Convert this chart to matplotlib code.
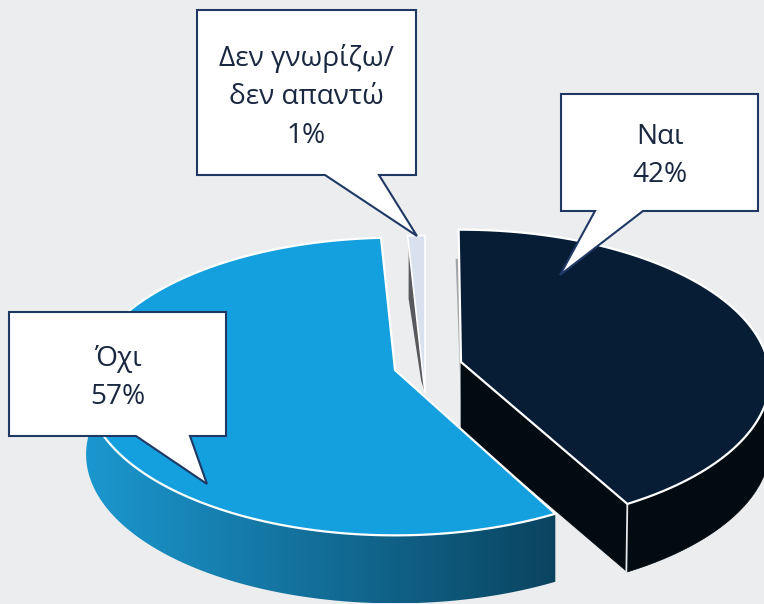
import numpy as np
import matplotlib
matplotlib.use("Agg")
import matplotlib.pyplot as plt
from matplotlib.colors import LinearSegmentedColormap
from matplotlib.patches import Polygon

categories = ["Ναι", "Όχι", "Δεν γνωρίζω/\nδεν απαντώ"]
values = [42, 57, 1]

BG = "#ECEDEF"
TOP_COLORS = ["#071D36", "#14A0DE", "#D9E0EE"]
WALL_DARK = "#020A12"
EDGE = "#1F3864"
TEXT = "#1A2740"

# pie geometry in pixels, one centre per exploded slice
CENTERS = [(461, 362), (395, 370), (425, 393)]
RADII = [(307, 147), (307, 147), (307, 175)]
SKEW = np.radians([-0.5, 0.7, 0.0])  # the 3d view leans each slice a little
PERSP = 0.111
DEPTH = 68

# callout box (left, top, right, bottom), tail base x0, x1, tip, text centre
CALLOUTS = [
    ((561, 94, 758, 211), 595, 643, (560, 275), (660, 156)),
    ((9, 312, 226, 436), 136, 190, (207, 484), (118, 378)),
    ((197, 10, 416, 175), 325, 379, (417, 236), (306, 97)),
]


def project(theta, center, radii):
    """Clockwise angle from 12 o'clock to pixels, with a little perspective."""
    u = np.sin(theta)
    v = np.cos(theta)
    d = 1 + PERSP * v
    return center[0] + radii[0] * u / d, center[1] - radii[1] * v / d


def arc(a0, a1, center, radii, n=160):
    x, y = project(np.linspace(a0, a1, n), center, radii)
    return np.column_stack([x, y])


def wall(a0, a1, center, radii):
    """Outline of the outer wall of a slice between two angles."""
    pts = arc(a0, a1, center, radii)
    return np.vstack([pts, pts[::-1] + [0, DEPTH]])


fig = plt.figure(figsize=(7.64, 6.04), dpi=100, facecolor=BG)
ax = fig.add_axes([0, 0, 1, 1])
ax.set_xlim(0, 764)
ax.set_ylim(604, 0)
ax.axis("off")

edges = np.cumsum([0] + values) / sum(values) * 2 * np.pi
a_yes = (edges[0] + SKEW[0], edges[1] + SKEW[0])
a_no = (edges[1] + SKEW[1], edges[2] + SKEW[1])
a_dk = (edges[2] + SKEW[2], edges[3] + SKEW[2])

# Nai: walls first, then the top face
c = np.array(CENTERS[0], float)
corner = np.array(project(a_yes[1], c, RADII[0]))
ax.add_patch(Polygon([c, corner, corner + [0, DEPTH], c + [0, DEPTH]], closed=True,
                     fc=WALL_DARK, ec=WALL_DARK, lw=0.5, zorder=2))
ax.add_patch(Polygon(wall(np.pi / 2, a_yes[1], c, RADII[0]), closed=True,
                     fc=WALL_DARK, ec=WALL_DARK, lw=0.5, zorder=2))
ax.plot([corner[0], corner[0] - 1], [corner[1], corner[1] + DEPTH], color="#E4E6E8", lw=1.3, zorder=3)
rim = np.array(project(a_yes[0], c, RADII[0]))
ax.add_patch(Polygon([c + [0, 40], c + (rim - c) * 0.78, c + (rim - c) * 0.78 + [-3.5, 0]], closed=True,
                     fc="#A4A6AA", ec="none", zorder=1))
top = np.vstack([c, arc(a_yes[0], a_yes[1], c, RADII[0])])
ax.add_patch(Polygon(top, closed=True, fc=TOP_COLORS[0], ec="white", lw=1.6, zorder=4))

# Oxi: the wall colour runs from left to right across the picture
c = np.array(CENTERS[1], float)
outline = wall(a_no[0], np.radians(276), c, RADII[1])
x0, x1 = outline[:, 0].min(), outline[:, 0].max()
y0, y1 = outline[:, 1].min(), outline[:, 1].max()
cmap = LinearSegmentedColormap.from_list("oxi_wall", ["#1B97CF", "#0A4460"])
img = ax.imshow(np.linspace(0, 1, 256)[None, :], cmap=cmap, extent=(x0, x1, y1, y0),
                aspect="auto", zorder=5)
clip = Polygon(outline, closed=True, fc="none", ec="none", zorder=5)
ax.add_patch(clip)
img.set_clip_path(clip)
ax.set_xlim(0, 764)
ax.set_ylim(604, 0)
top = np.vstack([c, arc(a_no[0], a_no[1], c, RADII[1])])
ax.add_patch(Polygon(top, closed=True, fc=TOP_COLORS[1], ec="white", lw=1.6, zorder=6))

# Den gnorizo: dark cut face peeks out on the left of the sliver
c = np.array(CENTERS[2], float)
rim = np.array(project(a_dk[0], c, RADII[2]))
face = [c + (rim - c) * 0.94, c + (rim - c) * 0.6 + [-6, 0], c + (rim - c) * 0.08 + [-2.5, 0], c]
ax.add_patch(Polygon(face, closed=True, fc="#58595E", ec="none", zorder=3))
top = np.vstack([c, arc(a_dk[0], a_dk[1], c, RADII[2], 12)])
ax.add_patch(Polygon(top, closed=True, fc=TOP_COLORS[2], ec="white", lw=1.2, zorder=3))

# callouts
for cat, val, (box, b0, b1, tip, mid) in zip(categories, values, CALLOUTS):
    l, t, r, b = box
    ax.add_patch(Polygon([(l, t), (r, t), (r, b), (b1, b), tip, (b0, b), (l, b)], closed=True,
                         fc="white", ec=EDGE, lw=1.5, joinstyle="miter", zorder=8))
    ax.text(mid[0], mid[1], f"{cat}\n{val}%", ha="center", va="center", fontsize=20.2,
            family=["Open Sans", "DejaVu Sans"], color=TEXT, linespacing=1.48, zorder=9)

fig.savefig("out.png", dpi=100, facecolor=BG)
